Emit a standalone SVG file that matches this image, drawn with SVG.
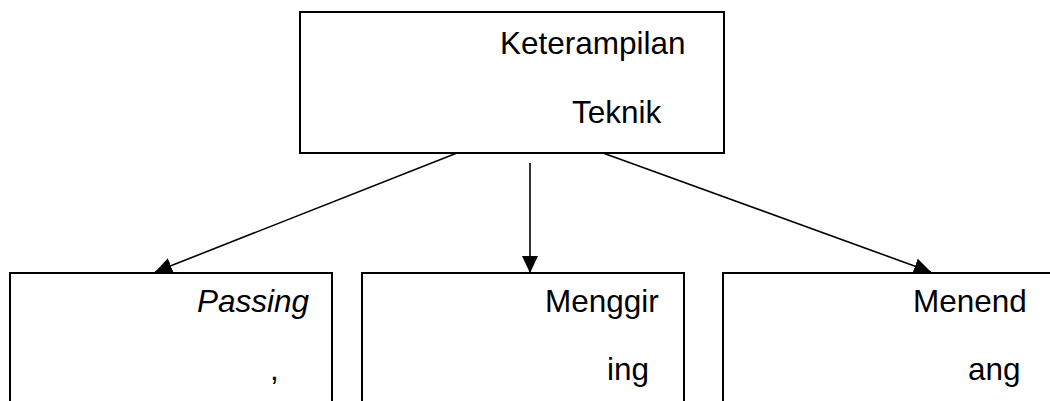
<svg xmlns="http://www.w3.org/2000/svg" width="1050" height="401" viewBox="0 0 1050 401">
<style>
.box{fill:#fff;stroke:#000;stroke-width:2}
.t{font-family:"Liberation Sans",Arial,sans-serif;font-size:31.5px;fill:#000}
.i{font-style:italic}
.c{stroke:#000;stroke-width:1.6;fill:none}
</style>
<defs>
<marker id="ah" markerUnits="userSpaceOnUse" markerWidth="20" markerHeight="20" refX="17" refY="8" orient="auto">
<path d="M0,0 L17,8 L0,16 Z" fill="#000"/>
</marker>
</defs>
<rect width="1050" height="401" fill="#fff"/>
<g id="connectors">
<line class="c" x1="457" y1="153" x2="155" y2="272" marker-end="url(#ah)"/>
<line class="c" x1="530" y1="163" x2="530" y2="273" marker-end="url(#ah)"/>
<line class="c" x1="603" y1="153" x2="931" y2="272" marker-end="url(#ah)"/>
</g>
<g id="top">
<rect class="box" x="300" y="12" width="424" height="141"/>
<text class="t" x="500" y="54">Keterampilan</text>
<text class="t" x="572" y="123">Teknik</text>
</g>
<g id="passing">
<rect class="box" x="10" y="273" width="322" height="140"/>
<text class="t i" x="197" y="312">Passing</text>
<text class="t" x="270" y="380">,</text>
</g>
<g id="menggiring">
<rect class="box" x="362" y="273" width="322" height="140"/>
<text class="t" x="545" y="312">Menggir</text>
<text class="t" x="607" y="380">ing</text>
</g>
<g id="menendang">
<rect class="box" x="723" y="273" width="340" height="140"/>
<text class="t" x="913" y="312">Menend</text>
<text class="t" x="968" y="380">ang</text>
</g>
</svg>
